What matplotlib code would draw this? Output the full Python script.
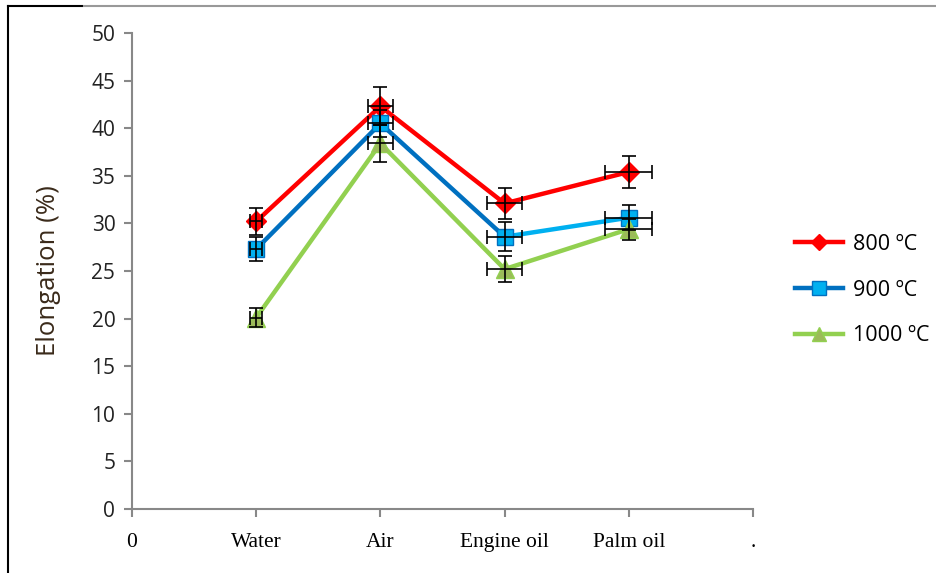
import numpy as np
import matplotlib.pyplot as plt
from matplotlib.lines import Line2D

categories = ["Water", "Air", "Engine oil", "Palm oil"]
xpos = [1, 2, 3, 4]

elong_800 = [30.2, 42.3, 32.1, 35.4]
elong_900 = [27.3, 40.5, 28.6, 30.6]
elong_1000 = [20.1, 38.4, 25.2, 29.4]

err_800 = [1.4, 2.0, 1.6, 1.7]
err_900 = [1.3, 1.4, 1.5, 1.3]
err_1000 = [1.0, 1.9, 1.4, 1.1]

xerr = [0.05, 0.1, 0.14, 0.19]

fig = plt.figure(figsize=(9.37, 5.73), dpi=100)
ax = fig.add_axes([132 / 937, 1 - 509 / 573, 621 / 937, 476 / 573])

eb = dict(fmt="none", ecolor="black", elinewidth=1.2, capsize=5, capthick=1.2, zorder=4)

# 800
ax.plot(xpos, elong_800, color="#FF0000", lw=3.2, marker="D", ms=10,
        mfc="#FF0000", mec="#FF0000", zorder=2)
ax.errorbar(xpos, elong_800, yerr=err_800, xerr=xerr, **eb)

# 900 - last segment is light blue in the original
ax.plot(xpos[:3], elong_900[:3], color="#0070C0", lw=3.2, zorder=2.1)
ax.plot(xpos[2:], elong_900[2:], color="#00B0F0", lw=3.2, zorder=2.1)
ax.plot(xpos, elong_900, ls="none", marker="s", ms=12,
        mfc="#00B0F0", mec="#0070C0", mew=1, zorder=2.15)
ax.errorbar(xpos, elong_900, yerr=err_900, xerr=xerr, **eb)

# 1000
ax.plot(xpos, elong_1000, color="#92D050", lw=3.2, marker="^", ms=13,
        mfc="#9BBB59", mec="#92D050", zorder=2.2)
ax.errorbar(xpos, elong_1000, yerr=err_1000, xerr=xerr, **eb)

ax.set_xlim(0, 5)
ax.set_ylim(0, 50)
ax.set_yticks(np.arange(0, 51, 5))
ax.set_xticks([0, 1, 2, 3, 4, 5])
ax.set_xticklabels(["0"] + categories + ["."], family="Liberation Serif", fontsize=15.5)
ax.tick_params(axis="y", labelsize=15, colors="#888888", labelcolor="#222222",
               length=6, width=1.5, direction="out", pad=6)
ax.tick_params(axis="x", colors="#888888", labelcolor="black",
               length=6, width=1.5, direction="out", pad=11)
for lab in ax.get_yticklabels():
    lab.set_family("Open Sans")

for side in ["top", "right"]:
    ax.spines[side].set_visible(False)
for side in ["left", "bottom"]:
    ax.spines[side].set_color("#888888")
    ax.spines[side].set_linewidth(1.5)

ax.set_ylabel("Elongation (%)", family="Open Sans", fontsize=18.5, color="#3a2a1a", labelpad=22)

handles = [
    Line2D([], [], color="#FF0000", lw=3.2, marker="D", ms=8, mfc="#FF0000", mec="#FF0000"),
    Line2D([], [], color="#0070C0", lw=3.2, marker="s", ms=10, mfc="#00B0F0", mec="#0070C0"),
    Line2D([], [], color="#92D050", lw=3.2, marker="^", ms=10, mfc="#9BBB59", mec="#92D050"),
]
fig.legend(handles, ["800 ºC", "900 ºC", "1000 ºC"], loc="center left",
           bbox_to_anchor=(776 / 937, 1 - 290 / 573), frameon=False,
           prop={"family": "Open Sans", "size": 15.5}, handlelength=2.2,
           labelspacing=1.15, handletextpad=0.5)

# cropped border of the original picture
fig.add_artist(Line2D([8 / 937, 8 / 937], [0, 1 - 6 / 573], color="black", lw=1.5))
fig.add_artist(Line2D([8 / 937, 82 / 937], [1 - 6 / 573, 1 - 6 / 573], color="black", lw=1.5))
fig.add_artist(Line2D([84 / 937, 1], [1 - 6 / 573, 1 - 6 / 573], color="#999999", lw=1.5))

fig.savefig("out.png", dpi=100)
